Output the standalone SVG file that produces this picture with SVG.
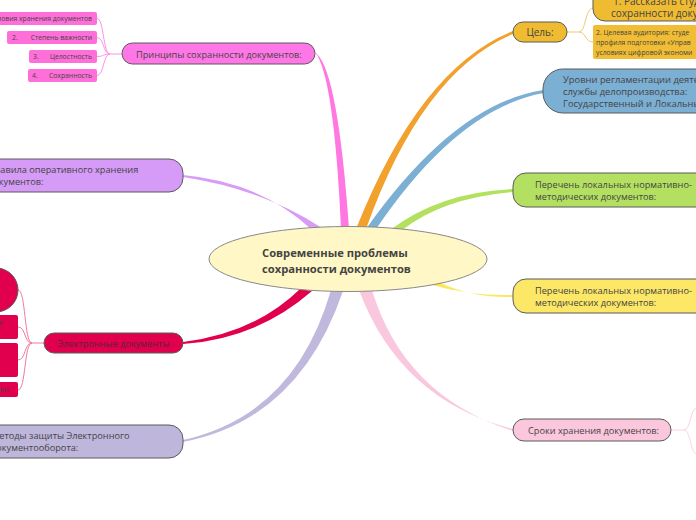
<svg xmlns="http://www.w3.org/2000/svg" width="696" height="520" viewBox="0 0 696 520">
<style>
text{font-family:"Open Sans","Noto Sans","DejaVu Sans",sans-serif;fill:#444}
.n{stroke:#5a5a5a;stroke-width:1}
.t{font-size:9.2px}
.s{font-size:6.8px}
.c{fill:none;stroke-width:1}
.ctr{font-size:11.2px;font-weight:bold;fill:#444}
</style>
<rect width="696" height="520" fill="#ffffff"/>
<g id="connectors">
<path d="M315,52 Q334,76 341,229 L349,229 Q338,74 317,54 Z" fill="#ff77e1"/>
<path d="M513,31 Q420,68 356,229 L366,229 Q422,72 513,34 Z" fill="#f1a12c"/>
<path d="M544,90 Q455,103 366,229 L376,229 Q458,108 544,93 Z" fill="#7bafd4"/>
<path d="M513,189 Q440,192 390,230 L401,231 Q442,198 513,192 Z" fill="#b3e05f"/>
<path d="M513,295 Q470,296 432,285 L441,283 Q472,298 513,297 Z" fill="#fbe85e"/>
<path d="M513,429 Q400,400 359,290 L372,290 Q404,396 513,431 Z" fill="#fac8de"/>
<path d="M183,440 Q295,415 331,290 L343,291 Q299,420 183,442 Z" fill="#c1b8dd"/>
<path d="M183,342 Q255,333 300,289 L312,291 Q257,339 183,344 Z" fill="#e0004d"/>
<path d="M183,175 Q260,182 311,229 L322,228 Q262,189 183,177 Z" fill="#d89cf6"/>
<g class="c" stroke="#ff8fe6">
<path d="M122,54 L110,54"/>
<path d="M110,54 C103,54 104,18.5 97,18.5"/>
<path d="M110,54 C103,54 104,37.5 97,37.5"/>
<path d="M110,54 C103,54 104,56.5 97,56.5"/>
<path d="M110,54 C103,54 104,75.5 97,75.5"/>
</g>
<g class="c" stroke="#f6c46a">
<path d="M567,32 L579,32"/>
<path d="M579,32 C586,32 585,8 593,8"/>
<path d="M579,32 C586,32 585,42 593,42"/>
</g>
<g class="c" stroke="#f07a9a">
<path d="M44,343 L32,343"/>
<path d="M32,343 C24,343 26,290 18,290"/>
<path d="M32,343 C24,343 26,327 18,327"/>
<path d="M32,343 C24,343 26,360 18,360"/>
<path d="M32,343 C24,343 26,390 18,390"/>
</g>
<g class="c" stroke="#fbd3e4">
<path d="M671,430 L684,430"/>
<path d="M684,430 C691,430 690,408 697,408"/>
<path d="M684,430 C691,430 690,454 697,454"/>
</g>
</g>
<g id="center">
<ellipse cx="348" cy="259" rx="139" ry="32.5" fill="#fff8c6" stroke="#888" stroke-width="1"/>
<text class="ctr" x="262" y="257">Современные проблемы</text>
<text class="ctr" x="262" y="273">сохранности документов</text>
</g>
<g id="principles">
<rect class="n" x="122" y="43" width="193" height="21" rx="10.5" fill="#ff77e6"/>
<text class="t" x="136" y="57.5">Принципы сохранности документов:</text>
</g>
<g id="p1"><rect x="-5" y="12" width="102" height="13" rx="2" fill="#ff6fd9"/><text class="s" x="92" y="21" text-anchor="end">1.      Условия хранения документов</text></g>
<g id="p2"><rect x="7" y="31" width="90" height="13" rx="2" fill="#ff6fd9"/><text class="s" x="12" y="40">2.</text><text class="s" x="92" y="40" text-anchor="end">Степень важности</text></g>
<g id="p3"><rect x="29" y="50" width="68" height="13" rx="2" fill="#ff6fd9"/><text class="s" x="33" y="59">3.</text><text class="s" x="92" y="59" text-anchor="end">Целостность</text></g>
<g id="p4"><rect x="28" y="69" width="69" height="13" rx="2" fill="#ff6fd9"/><text class="s" x="32" y="78">4.</text><text class="s" x="92" y="78" text-anchor="end">Сохранность</text></g>
<g id="goal">
<rect class="n" x="513" y="22" width="54" height="20" rx="10" fill="#efbb31"/>
<text x="540" y="36" font-size="10" text-anchor="middle">Цель:</text>
</g>
<g id="goal1">
<rect class="n" x="593" y="-20" width="130" height="41" rx="12" fill="#efbb31"/>
<text x="613" y="5" font-size="10">1. Рассказать студе</text>
<text x="611" y="17" font-size="10">сохранности докум</text>
</g>
<g id="goal2">
<rect x="593" y="25" width="110" height="34" rx="2" fill="#f0bd34"/>
<text class="s" x="596" y="35">2. Целевая аудитория: студе</text>
<text class="s" x="596" y="45">профиля подготовки «Управ</text>
<text class="s" x="596" y="55">условиях цифровой экономи</text>
</g>
<g id="levels">
<rect class="n" x="543" y="69" width="180" height="44" rx="20" fill="#7bafd4"/>
<text x="563" y="82.5" font-size="9.4">Уровни регламентации деятел</text>
<text x="563" y="94.5" font-size="9.4">службы делопроизводства:</text>
<text x="563" y="106.5" font-size="9.4">Государственный и Локальны</text>
</g>
<g id="list-green">
<rect class="n" x="513" y="173" width="200" height="34" rx="13" fill="#b4e061"/>
<text class="t" x="535" y="188">Перечень локальных нормативно-</text>
<text class="t" x="535" y="200">методических документов:</text>
</g>
<g id="list-yellow">
<rect class="n" x="513" y="279" width="200" height="34" rx="13" fill="#fde767"/>
<text class="t" x="535" y="294">Перечень локальных нормативно-</text>
<text class="t" x="535" y="306">методических документов:</text>
</g>
<g id="terms">
<rect class="n" x="513" y="419" width="158" height="22" rx="11" fill="#fbc7dd"/>
<text class="t" x="528" y="433.5">Сроки хранения документов:</text>
</g>
<g id="rules">
<rect class="n" x="-30" y="159" width="213" height="33" rx="14" fill="#d59bf6"/>
<text class="t" x="-12" y="173">Правила оперативного хранения</text>
<text class="t" x="-12" y="185">документов:</text>
</g>
<g id="edocs">
<rect class="n" x="44" y="333" width="139" height="20" rx="10" fill="#e0004d"/>
<text class="t" x="113.5" y="346.5" text-anchor="middle" style="fill:#5a2434">Электронные документы</text>
</g>
<g id="e1"><rect class="n" x="-40" y="268" width="58" height="44" rx="22" fill="#e0004d"/></g>
<g id="e2"><rect x="-10" y="315" width="28" height="24" rx="2" fill="#e0004d"/><text class="s" x="-1" y="325">е</text></g>
<g id="e3"><rect x="-10" y="343" width="28" height="34" rx="2" fill="#e0004d"/></g>
<g id="e4"><rect x="-10" y="382" width="28" height="15" rx="2" fill="#e0004d"/><text class="s" x="0" y="392">ют</text></g>
<g id="methods">
<rect class="n" x="-30" y="425" width="213" height="33" rx="14" fill="#bfb6dc"/>
<text class="t" x="-9" y="439">Методы защиты Электронного</text>
<text class="t" x="-9" y="451">документооборота:</text>
</g>
</svg>
